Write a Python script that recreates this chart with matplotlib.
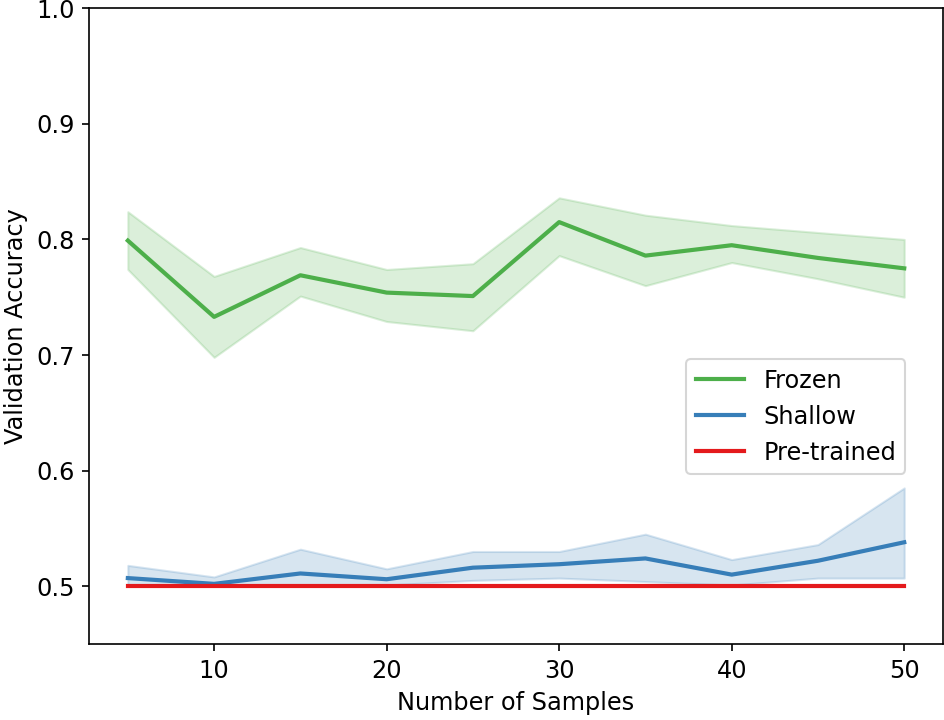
import matplotlib
matplotlib.use("Agg")
import matplotlib.pyplot as plt

# sample sizes on the x axis
samples = [5, 10, 15, 20, 25, 30, 35, 40, 45, 50]

# frozen model: mean and band
frozen_mean = [0.799, 0.733, 0.769, 0.754, 0.751, 0.815, 0.786, 0.795, 0.784, 0.775]
frozen_low = [0.774, 0.698, 0.751, 0.729, 0.721, 0.786, 0.760, 0.780, 0.766, 0.750]
frozen_high = [0.824, 0.768, 0.793, 0.774, 0.779, 0.836, 0.821, 0.812, 0.806, 0.800]

# shallow model: mean and band
shallow_mean = [0.507, 0.502, 0.511, 0.506, 0.516, 0.519, 0.524, 0.510, 0.522, 0.538]
shallow_low = [0.500, 0.500, 0.500, 0.501, 0.505, 0.507, 0.504, 0.501, 0.507, 0.507]
shallow_high = [0.518, 0.508, 0.532, 0.515, 0.530, 0.530, 0.545, 0.523, 0.536, 0.585]

# pre-trained baseline
pretrained = [0.5, 0.5, 0.5, 0.5, 0.5, 0.5, 0.5, 0.5, 0.5, 0.5]

green = "#4daf4a"
blue = "#377eb8"
red = "#e41a1c"

plt.rcParams["font.size"] = 11.5

fig = plt.figure(figsize=(944 / 150, 720 / 150), dpi=150)
ax = fig.add_axes([0.0943, 0.1056, 0.9047, 0.8829])

ax.plot(samples, frozen_mean, color=green, lw=2, label="Frozen")
ax.fill_between(samples, frozen_low, frozen_high, color=green, alpha=0.2)

ax.plot(samples, shallow_mean, color=blue, lw=2, label="Shallow")
ax.fill_between(samples, shallow_low, shallow_high, color=blue, alpha=0.2)

ax.plot(samples, pretrained, color=red, lw=2, label="Pre-trained")

ax.set_ylim(0.45, 1.0)
ax.set_xlabel("Number of Samples")
ax.set_ylabel("Validation Accuracy")
ax.legend(loc="lower right", bbox_to_anchor=(0.956, 0.267), borderaxespad=0)

fig.savefig("out.png", dpi=150)
